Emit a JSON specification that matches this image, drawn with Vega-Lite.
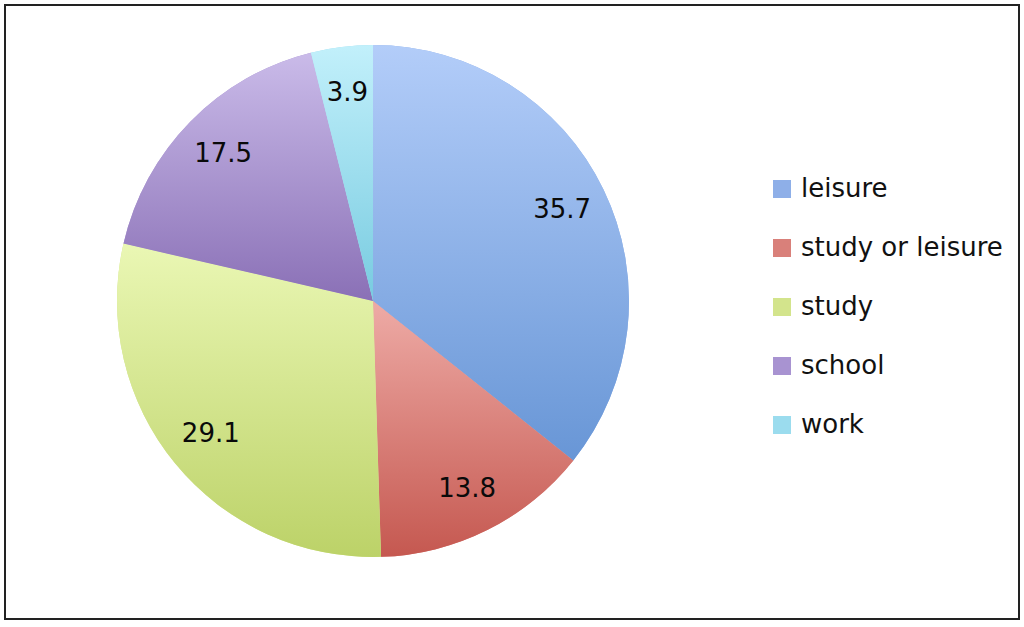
{
  "$schema": "https://vega.github.io/schema/vega-lite/v6.json",
  "autosize": "none",
  "width": 1014,
  "height": 614,
  "padding": {"left": 5, "top": 5, "right": 5, "bottom": 8},
  "background": "white",
  "view": {"stroke": "#222222", "strokeWidth": 2},
  "config": {
    "view": {"stroke": "#222222", "strokeWidth": 2},
    "font": "DejaVu Sans"
  },
  "data": {
    "values": [
      {"category": "leisure", "value": 35.7, "idx": 1},
      {"category": "study or leisure", "value": 13.8, "idx": 2},
      {"category": "study", "value": 29.1, "idx": 3},
      {"category": "school", "value": 17.5, "idx": 4},
      {"category": "work", "value": 3.9, "idx": 5}
    ]
  },
  "encoding": {
    "theta": {"field": "value", "type": "quantitative", "stack": true},
    "order": {"field": "idx", "type": "quantitative"}
  },
  "layer": [
    {
      "mark": {"type": "arc", "radius": 256, "x": 368, "y": 296},
      "encoding": {
        "color": {
          "field": "category",
          "type": "nominal",
          "sort": ["leisure", "study or leisure", "study", "school", "work"],
          "scale": {
            "domain": ["leisure", "study or leisure", "study", "school", "work"],
            "range": ["#8eafe8", "#d9807a", "#d3e48c", "#a893d1", "#9bdcee"]
          },
          "legend": {
            "title": null,
            "orient": "none",
            "legendX": 764,
            "legendY": 171,
            "symbolType": "square",
            "symbolSize": 324,
            "symbolStrokeWidth": 0,
            "labelFontSize": 26,
            "labelFont": "DejaVu Sans",
            "labelColor": "#111111",
            "labelOffset": 6,
            "rowPadding": 33,
            "padding": 0,
            "labelLimit": 400
          }
        }
      }
    },
    {
      "mark": {"type": "arc", "radius": 256, "x": 368, "y": 296},
      "encoding": {
        "fill": {
          "condition": [
            {"test": "datum.category === 'leisure'", "value": {"gradient": "linear", "x1": 0, "y1": 0, "x2": 0, "y2": 1, "stops": [{"offset": 0, "color": "#b3cdf9"}, {"offset": 1, "color": "#6896d6"}]}},
            {"test": "datum.category === 'study or leisure'", "value": {"gradient": "linear", "x1": 0, "y1": 0, "x2": 0, "y2": 1, "stops": [{"offset": 0, "color": "#eeaba6"}, {"offset": 1, "color": "#c55850"}]}},
            {"test": "datum.category === 'study'", "value": {"gradient": "linear", "x1": 0, "y1": 0, "x2": 0, "y2": 1, "stops": [{"offset": 0, "color": "#eaf7b4"}, {"offset": 1, "color": "#bcd268"}]}},
            {"test": "datum.category === 'school'", "value": {"gradient": "linear", "x1": 0, "y1": 0, "x2": 0, "y2": 1, "stops": [{"offset": 0, "color": "#cabbe9"}, {"offset": 1, "color": "#8a70b6"}]}}
          ],
          "value": {"gradient": "linear", "x1": 0, "y1": 0, "x2": 0, "y2": 1, "stops": [{"offset": 0, "color": "#c2f0fb"}, {"offset": 1, "color": "#78cbe0"}]}
        }
      }
    },
    {
      "mark": {"type": "text", "radius": 210, "x": 368, "y": 296, "fontSize": 26, "font": "DejaVu Sans", "color": "#0a0a0a"},
      "encoding": {
        "text": {"field": "value", "type": "quantitative", "format": ".1f"}
      }
    }
  ]
}
